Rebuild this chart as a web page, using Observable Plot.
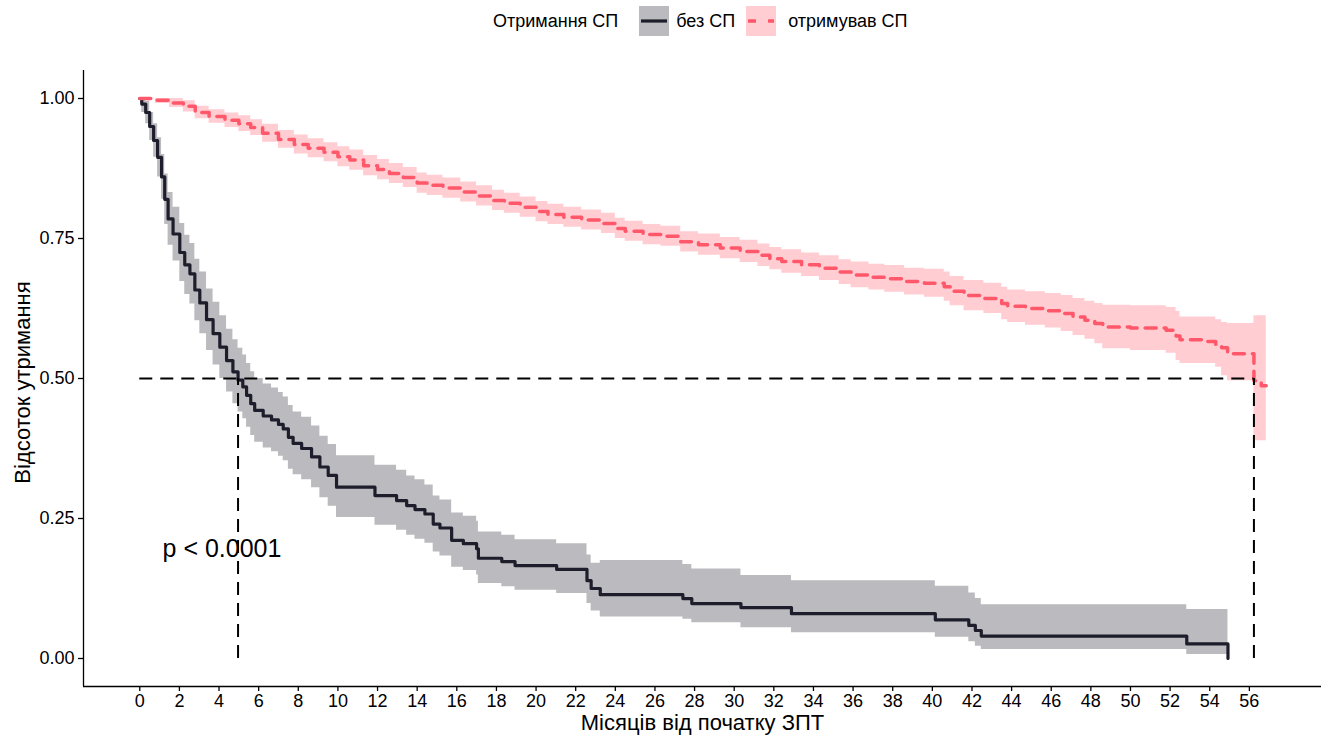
<!DOCTYPE html>
<html>
<head>
<meta charset="utf-8">
<script src="https://cdn.jsdelivr.net/npm/d3@7"></script>
<script src="https://cdn.jsdelivr.net/npm/@observablehq/plot@0.6"></script>
<style>
  body { margin: 0; background: #fff; font-family: "Liberation Sans", Arial, sans-serif; }
  #legend { position: relative; width: 1324px; height: 45px; }
  #legend .row { position: absolute; left: 493px; top: 6px; height: 30px; display: flex; align-items: center; font-size: 18px; color: #000; white-space: nowrap; }
  #legend svg { display: block; }
</style>
</head>
<body>
<div id="legend"></div>
<div id="chart"></div>
<script>
// ---- data ----
const legendTitle = "Отримання СП";
const groupNames = ["без СП", "отримував СП"];
const groupColors = ["#1d1d2b", "#ff586a"];
const xLabel = "Місяців від початку ЗПТ";
const yLabel = "Відсоток утримання";
const pLabel = "p < 0.0001";
const pvalCoord = [1.15, 0.196];
const xTicks = d3.range(0, 57, 2);
const yTicks = [0, 0.25, 0.5, 0.75, 1];
const medianSurv = 0.5;
const medianTimes = [4.96, 56.23];

// group 1: без СП
const t0 = [0, 0.1, 0.3, 0.5, 0.7, 0.9, 1.1, 1.26, 1.43, 1.68, 2.02, 2.27, 2.53, 2.78, 3.03, 3.37, 3.7, 4.04, 4.38, 4.7, 4.96, 5.2, 5.39, 5.6, 5.8, 6.23, 6.65, 7.0, 7.24, 7.5, 7.74, 8.17, 8.67, 9.09, 9.51, 9.93, 11.87, 12.96, 13.47, 13.89, 14.39, 14.81, 15.15, 15.74, 16.33, 17.0, 17.09, 18.27, 18.94, 21.04, 22.57, 22.78, 23.24, 27.41, 27.86, 30.34, 32.89, 40.15, 41.84, 42.17, 42.47, 52.84, 54.92];
const s0 = [1.0, 0.99, 0.975, 0.95, 0.925, 0.895, 0.86, 0.82, 0.785, 0.758, 0.725, 0.703, 0.687, 0.658, 0.635, 0.605, 0.58, 0.556, 0.532, 0.512, 0.497, 0.485, 0.47, 0.455, 0.443, 0.433, 0.426, 0.418, 0.41, 0.395, 0.384, 0.375, 0.36, 0.342, 0.327, 0.306, 0.291, 0.282, 0.273, 0.266, 0.258, 0.24, 0.233, 0.211, 0.205, 0.196, 0.179, 0.173, 0.166, 0.159, 0.139, 0.125, 0.114, 0.107, 0.098, 0.091, 0.08, 0.069, 0.059, 0.05, 0.04, 0.026, 0.0];
const lo0 = [1.0, 0.975, 0.955, 0.925, 0.895, 0.86, 0.82, 0.775, 0.738, 0.71, 0.673, 0.65, 0.633, 0.603, 0.58, 0.55, 0.524, 0.5, 0.476, 0.455, 0.44, 0.428, 0.413, 0.398, 0.386, 0.376, 0.369, 0.361, 0.353, 0.338, 0.328, 0.319, 0.305, 0.287, 0.272, 0.252, 0.238, 0.229, 0.22, 0.213, 0.206, 0.19, 0.183, 0.163, 0.157, 0.149, 0.134, 0.128, 0.122, 0.116, 0.098, 0.085, 0.074, 0.07, 0.064, 0.055, 0.046, 0.038, 0.03, 0.022, 0.016, 0.007, 0.007];
const hi0 = [1.0, 1.0, 0.995, 0.975, 0.955, 0.93, 0.9, 0.865, 0.832, 0.806, 0.777, 0.756, 0.741, 0.713, 0.69, 0.66, 0.636, 0.612, 0.588, 0.569, 0.554, 0.542, 0.527, 0.512, 0.5, 0.49, 0.483, 0.475, 0.467, 0.452, 0.44, 0.431, 0.415, 0.397, 0.382, 0.362, 0.345, 0.336, 0.326, 0.319, 0.31, 0.29, 0.283, 0.26, 0.254, 0.245, 0.226, 0.22, 0.212, 0.205, 0.185, 0.17, 0.175, 0.168, 0.16, 0.148, 0.139, 0.129, 0.117, 0.107, 0.096, 0.0875, 0.0875];

// group 2: отримував СП
const t1 = [0, 0.8, 1.5, 2.2, 2.8, 3.5, 4.3, 5.0, 5.6, 6.2, 7.0, 7.8, 8.5, 9.3, 10.0, 10.6, 11.3, 12.0, 12.6, 13.3, 14.0, 14.5, 15.3, 16.2, 17.0, 17.8, 18.4, 19.2, 20.0, 20.6, 21.4, 22.3, 23.3, 24.0, 24.5, 25.4, 26.3, 27.3, 28.2, 29.3, 30.3, 31.2, 31.8, 32.4, 33.4, 34.3, 35.3, 35.9, 36.8, 37.6, 38.6, 39.6, 40.6, 40.9, 41.6, 42.6, 43.5, 43.8, 44.7, 45.7, 46.5, 47.1, 47.7, 48.2, 48.6, 50.0, 51.8, 52.3, 52.5, 53.9, 54.3, 54.6, 54.9, 56.23, 56.6, 56.85];
const s1 = [1.0, 0.997, 0.992, 0.986, 0.975, 0.968, 0.961, 0.955, 0.948, 0.938, 0.927, 0.918, 0.911, 0.904, 0.896, 0.89, 0.88, 0.873, 0.866, 0.859, 0.849, 0.845, 0.84, 0.833, 0.826, 0.818, 0.813, 0.806, 0.798, 0.793, 0.788, 0.783, 0.777, 0.768, 0.763, 0.757, 0.754, 0.744, 0.739, 0.733, 0.727, 0.72, 0.714, 0.709, 0.703, 0.697, 0.69, 0.685, 0.681, 0.678, 0.673, 0.67, 0.664, 0.656, 0.648, 0.643, 0.634, 0.629, 0.625, 0.621, 0.616, 0.61, 0.604, 0.598, 0.592, 0.59, 0.586, 0.576, 0.569, 0.566, 0.561, 0.555, 0.544, 0.496, 0.487, 0.487];
const lo1 = [1.0, 0.991, 0.984, 0.976, 0.964, 0.956, 0.948, 0.941, 0.934, 0.922, 0.911, 0.901, 0.894, 0.887, 0.878, 0.872, 0.862, 0.855, 0.848, 0.841, 0.831, 0.827, 0.822, 0.815, 0.808, 0.8, 0.795, 0.788, 0.78, 0.775, 0.77, 0.765, 0.759, 0.75, 0.745, 0.739, 0.736, 0.726, 0.72, 0.714, 0.707, 0.7, 0.694, 0.688, 0.682, 0.675, 0.668, 0.662, 0.658, 0.654, 0.649, 0.645, 0.638, 0.63, 0.621, 0.616, 0.605, 0.6, 0.595, 0.59, 0.584, 0.577, 0.57, 0.562, 0.553, 0.55, 0.545, 0.532, 0.527, 0.527, 0.52, 0.505, 0.496, 0.389, 0.389, 0.389];
const hi1 = [1.0, 1.0, 1.0, 0.996, 0.986, 0.98, 0.974, 0.969, 0.962, 0.954, 0.943, 0.935, 0.928, 0.921, 0.914, 0.908, 0.898, 0.891, 0.884, 0.877, 0.867, 0.863, 0.858, 0.851, 0.844, 0.836, 0.831, 0.824, 0.816, 0.811, 0.806, 0.801, 0.795, 0.786, 0.781, 0.775, 0.772, 0.762, 0.758, 0.752, 0.747, 0.74, 0.734, 0.73, 0.724, 0.719, 0.712, 0.708, 0.704, 0.702, 0.697, 0.695, 0.69, 0.682, 0.675, 0.67, 0.663, 0.658, 0.655, 0.652, 0.648, 0.643, 0.638, 0.634, 0.631, 0.63, 0.627, 0.62, 0.61, 0.61, 0.605, 0.6, 0.598, 0.612, 0.612, 0.612];

// ---- build tables ----
const rows0 = t0.map((t, i) => ({t, s: s0[i], lo: lo0[i], hi: hi0[i], g: groupNames[0]}));
const rows1 = t1.map((t, i) => ({t, s: s1[i], lo: lo1[i], hi: hi1[i], g: groupNames[1]}));

const xDomain = [-2.84, 59.64];
const yDomain = [-0.05, 1.05];
const font = '"Liberation Sans", Arial, sans-serif';

// ---- legend ----
const legend = document.getElementById("legend");
const row = document.createElement("div");
row.className = "row";
function keySvg(color, dashed) {
  const ns = "http://www.w3.org/2000/svg";
  const svg = document.createElementNS(ns, "svg");
  svg.setAttribute("width", 30); svg.setAttribute("height", 30);
  const r = document.createElementNS(ns, "rect");
  r.setAttribute("width", 30); r.setAttribute("height", 30);
  r.setAttribute("fill", color); r.setAttribute("fill-opacity", 0.3);
  svg.appendChild(r);
  const l = document.createElementNS(ns, "line");
  l.setAttribute("x1", 2); l.setAttribute("x2", 28);
  l.setAttribute("y1", 15); l.setAttribute("y2", 15);
  l.setAttribute("stroke", color);
  l.setAttribute("stroke-width", dashed ? 3.5 : 3.2);
  if (dashed) l.setAttribute("stroke-dasharray", "8,12");
  svg.appendChild(l);
  return svg;
}
function span(text, ml) {
  const s = document.createElement("span");
  s.textContent = text;
  s.style.marginLeft = ml + "px";
  return s;
}
row.appendChild(span(legendTitle, 0));
const k0 = keySvg(groupColors[0], false); k0.style.marginLeft = "21px"; row.appendChild(k0);
row.appendChild(span(groupNames[0], 7));
const k1 = keySvg(groupColors[1], true); k1.style.marginLeft = "11px"; row.appendChild(k1);
row.appendChild(span(groupNames[1], 12));
legend.appendChild(row);

// ---- chart ----
const chart = Plot.plot({
  width: 1324,
  height: 695,
  marginLeft: 83,
  marginRight: 3,
  marginTop: 25,
  marginBottom: 54,
  style: {fontFamily: font, background: "#fff", color: "#000", overflow: "visible"},
  x: {domain: xDomain},
  y: {domain: yDomain},
  marks: [
    Plot.areaY(rows0, {x: "t", y1: "lo", y2: "hi", curve: "step-after", fill: groupColors[0], fillOpacity: 0.3}),
    Plot.areaY(rows1, {x: "t", y1: "lo", y2: "hi", curve: "step-after", fill: groupColors[1], fillOpacity: 0.3}),
    Plot.line(rows0, {x: "t", y: "s", curve: "step-after", stroke: groupColors[0], strokeWidth: 3.2}),
    Plot.line(rows1, {x: "t", y: "s", curve: "step-after", stroke: groupColors[1], strokeWidth: 3.5, strokeDasharray: "11,8"}),
    Plot.ruleY([medianSurv], {x1: 0, x2: d3.max(medianTimes), stroke: "#000", strokeWidth: 2, strokeDasharray: "13,8"}),
    Plot.ruleX(medianTimes, {y1: 0, y2: medianSurv, stroke: "#000", strokeWidth: 2, strokeDasharray: "13,8"}),
    Plot.text([pLabel], {x: pvalCoord[0], y: pvalCoord[1], textAnchor: "start", fontSize: 25, fill: "#000"}),
    Plot.ruleX([xDomain[0]], {stroke: "#000", strokeWidth: 1.3}),
    Plot.ruleY([yDomain[0]], {stroke: "#000", strokeWidth: 1.3}),
    Plot.axisY({ticks: yTicks, tickFormat: d3.format(".2f"), tickSize: 5, tickPadding: 4, fontSize: 18, label: null, stroke: "#000", strokeWidth: 1.3}),
    Plot.axisX({ticks: xTicks, tickFormat: d3.format("d"), tickSize: 5, tickPadding: 3, fontSize: 18, label: null, stroke: "#000", strokeWidth: 1.3}),
    Plot.text([xLabel], {frameAnchor: "bottom", dy: 36, textAnchor: "middle", lineAnchor: "middle", fontSize: 22, fill: "#000"}),
    Plot.text([yLabel], {frameAnchor: "left", dx: -61, dy: 4, rotate: -90, textAnchor: "middle", lineAnchor: "middle", fontSize: 22, fill: "#000"})
  ]
});
document.getElementById("chart").appendChild(chart);
</script>
</body>
</html>
